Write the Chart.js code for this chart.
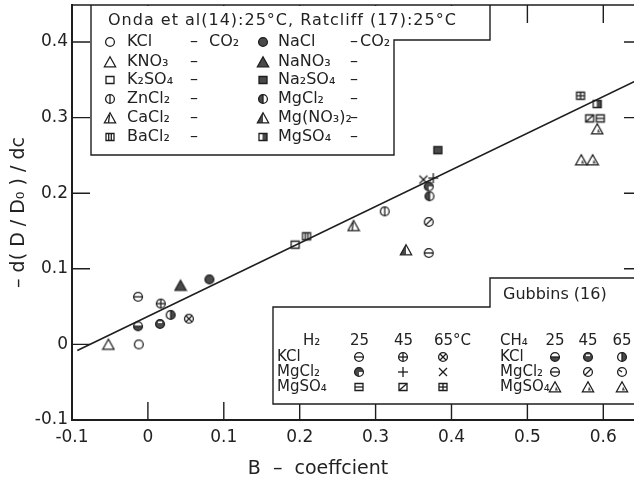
<!DOCTYPE html>
<html>
<head>
<meta charset="utf-8">
<script src="https://cdn.jsdelivr.net/npm/chart.js@4/dist/chart.umd.min.js"></script>
<style>
  html, body { margin: 0; padding: 0; background: #fff; overflow: hidden; }
  canvas { display: block; }
</style>
</head>
<body>
<canvas id="chart" width="650" height="490"></canvas>
<script>
// values: B-coefficient (x) vs -d(D/Do)/dc (y)
const bTicks = [-0.1, 0, 0.1, 0.2, 0.3, 0.4, 0.5, 0.6];
const slopeTicks = [-0.1, 0, 0.1, 0.2, 0.3, 0.4];

// Onda et al (14) / Ratcliff (17), 25°C, CO2
const ondaSalts = ["KCl", "KNO3", "K2SO4", "ZnCl2", "CaCl2", "BaCl2", "NaCl", "NaNO3", "Na2SO4", "MgCl2", "Mg(NO3)2", "MgSO4"];
const ondaB = [-0.012, -0.052, 0.194, 0.312, 0.271, 0.209, 0.081, 0.043, 0.382, 0.371, 0.340, 0.592];
const ondaSlope = [0.000, 0.000, 0.132, 0.176, 0.157, 0.143, 0.086, 0.078, 0.257, 0.196, 0.125, 0.318];
const ondaSymbols = ["o", "tri", "sq", "oV", "triLine", "sqV", "oFill", "triFill", "sqFill", "oHalf", "triHalf", "sqHalf"];

// Gubbins (16): rows KCl, MgCl2, MgSO4; columns 25, 45, 65 °C
const gubbinsSalts = ["KCl", "MgCl2", "MgSO4"];
const gubbinsTemps = [25, 45, 65];
const h2B = [[-0.013, 0.017, 0.054], [0.370, 0.376, 0.363], [0.596, 0.582, 0.570]];
const h2Slope = [[0.063, 0.054, 0.034], [0.209, 0.220, 0.218], [0.299, 0.299, 0.329]];
const h2Symbols = [["oTheta", "oPlus", "oX"], ["oQuarter", "plus", "cross"], ["sqH", "sqSlash", "sqPlus"]];
const ch4B = [[-0.013, 0.016, 0.030], [0.370, 0.370, null], [0.571, 0.586, 0.592]];
const ch4Slope = [[0.024, 0.027, 0.039], [0.121, 0.162, null], [0.244, 0.244, 0.285]];
const ch4Symbols = [["oLow", "oMost", "oRight"], ["oTheta", "oSlash", "oClock"], ["triIn", "triIn", "triIn"]];

// fitted straight line
const fitB = [-0.093, 0.652];
const fitSlope = [-0.008, 0.353];

const INK = "#1e1e1e";
const GREY = "#4a4a4a";
const FONT = '"DejaVu Sans", sans-serif';
const TICK = 18;

function symbol(kind) {
    const c = document.createElement("canvas");
    c.width = 14;
    c.height = 14;
    const g = c.getContext("2d");
    g.strokeStyle = INK;
    g.fillStyle = GREY;
    g.lineWidth = 1.3;
    const m = 7, r = 4.4;
    const circ = () => { g.beginPath(); g.arc(m, m, r, 0, Math.PI * 2); };
    const tri = () => { g.beginPath(); g.moveTo(m, 1.8); g.lineTo(12.6, 11.8); g.lineTo(1.4, 11.8); g.closePath(); };
    const sq = () => { g.beginPath(); g.rect(3, 3.5, 8, 7); };
    const seg = (x1, y1, x2, y2) => { g.beginPath(); g.moveTo(x1, y1); g.lineTo(x2, y2); g.stroke(); };
    const half = (a0, a1) => { g.beginPath(); g.moveTo(m, m); g.arc(m, m, r, a0, a1); g.closePath(); g.fill(); };
    switch (kind) {
        case "o": circ(); g.stroke(); break;
        case "oFill": circ(); g.fill(); g.stroke(); break;
        case "oV": circ(); g.stroke(); seg(m, m - r, m, m + r); break;
        case "oHalf": half(Math.PI / 2, Math.PI * 1.5); circ(); g.stroke(); seg(m, m - r, m, m + r); break;
        case "oTheta": circ(); g.stroke(); seg(m - r, m, m + r, m); break;
        case "oPlus": circ(); g.stroke(); seg(m - r, m, m + r, m); seg(m, m - r, m, m + r); break;
        case "oX": circ(); g.stroke(); seg(m - 3, m - 3, m + 3, m + 3); seg(m - 3, m + 3, m + 3, m - 3); break;
        case "oLow": half(0, Math.PI); circ(); g.stroke(); seg(m - r, m, m + r, m); break;
        case "oMost": circ(); g.fill(); g.stroke(); g.fillStyle = "#fff"; g.fillRect(m - 2, m - 2.5, 4, 1.6); break;
        case "oRight": half(-Math.PI / 2, Math.PI / 2); circ(); g.stroke(); seg(m, m - r, m, m + r); break;
        case "oQuarter": half(Math.PI / 2, Math.PI * 2); circ(); g.stroke(); break;
        case "oSlash": circ(); g.stroke(); seg(m - 3, m + 3, m + 3, m - 3); break;
        case "oClock": circ(); g.stroke(); seg(m, m, m - 3, m - 2); break;
        case "plus": seg(m - 5, m, m + 5, m); seg(m, m - 5, m, m + 5); break;
        case "cross": seg(m - 4, m - 4, m + 4, m + 4); seg(m - 4, m + 4, m + 4, m - 4); break;
        case "tri": tri(); g.stroke(); break;
        case "triFill": tri(); g.fill(); g.stroke(); break;
        case "triLine": tri(); g.stroke(); seg(m - 0.5, 4, m - 1.5, 11.8); break;
        case "triHalf": g.beginPath(); g.moveTo(m, 1.8); g.lineTo(m, 11.8); g.lineTo(1.4, 11.8); g.closePath(); g.fill(); tri(); g.stroke(); break;
        case "triIn": tri(); g.stroke(); g.beginPath(); g.moveTo(m + 1, 6.5); g.lineTo(10, 10.5); g.lineTo(m, 10.5); g.closePath(); g.fill(); break;
        case "sq": sq(); g.stroke(); break;
        case "sqV": sq(); g.stroke(); seg(5.7, 3.5, 5.7, 10.5); seg(8.3, 3.5, 8.3, 10.5); break;
        case "sqFill": sq(); g.fill(); g.stroke(); break;
        case "sqHalf": g.fillRect(6.5, 3.5, 4.5, 7); sq(); g.stroke(); break;
        case "sqH": sq(); g.stroke(); seg(3, 7, 11, 7); break;
        case "sqSlash": sq(); g.stroke(); seg(3, 10.5, 11, 3.5); break;
        case "sqPlus": sq(); g.stroke(); seg(3, 7, 11, 7); seg(7, 3.5, 7, 10.5); break;
    }
    return c;
}

const datasets = [{
    label: "fit",
    data: fitB.map((b, i) => ({ x: b, y: fitSlope[i] })),
    showLine: true,
    borderColor: INK,
    borderWidth: 1.6,
    pointRadius: 0,
}];
ondaSalts.forEach((salt, i) => {
    datasets.push({
        label: salt + " CO2",
        data: [{ x: ondaB[i], y: ondaSlope[i] }],
        pointStyle: symbol(ondaSymbols[i]),
    });
});
[["H2", h2B, h2Slope, h2Symbols], ["CH4", ch4B, ch4Slope, ch4Symbols]].forEach(([gas, bs, ys, syms]) => {
    gubbinsSalts.forEach((salt, r) => {
        gubbinsTemps.forEach((t, k) => {
            if (bs[r][k] === null) return;
            datasets.push({
                label: salt + " " + gas + " " + t,
                data: [{ x: bs[r][k], y: ys[r][k] }],
                pointStyle: symbol(syms[r][k]),
            });
        });
    });
});

function fmt(v) {
    return Math.abs(v) < 1e-9 ? "0" : v.toFixed(1);
}

const frameTicks = {
    id: "frameTicks",
    beforeDatasetsDraw(chart) {
        const { ctx, chartArea: a, scales: { x, y } } = chart;
        ctx.save();
        ctx.strokeStyle = INK;
        ctx.lineWidth = 1.4;
        ctx.beginPath();
        ctx.moveTo(a.left, a.top);
        ctx.lineTo(a.right, a.top);
        ctx.lineTo(a.right, a.bottom);
        bTicks.forEach(v => {
            const px = x.getPixelForValue(v);
            ctx.moveTo(px, a.bottom); ctx.lineTo(px, a.bottom - TICK);
            ctx.moveTo(px, a.top); ctx.lineTo(px, a.top + TICK);
        });
        slopeTicks.forEach(v => {
            const py = y.getPixelForValue(v);
            ctx.moveTo(a.left, py); ctx.lineTo(a.left + TICK, py);
            ctx.moveTo(a.right, py); ctx.lineTo(a.right - TICK, py);
        });
        ctx.stroke();
        ctx.restore();
    },
};

function txt(ctx, s, x, y, align) {
    ctx.textAlign = align || "left";
    ctx.fillText(s, x, y);
}

function mark(ctx, kind, x, y) {
    ctx.drawImage(symbol(kind), Math.round(x - 7), Math.round(y - 7));
}

const keyBoxes = {
    id: "keyBoxes",
    afterDatasetsDraw(chart) {
        const { ctx, chartArea: a } = chart;
        ctx.save();
        ctx.lineWidth = 1.4;
        ctx.strokeStyle = INK;
        ctx.fillStyle = "#fff";
        // Onda / Ratcliff key
        ctx.beginPath();
        ctx.moveTo(91, a.top + 1);
        ctx.lineTo(91, 155);
        ctx.lineTo(394, 155);
        ctx.lineTo(394, 40);
        ctx.lineTo(490, 40);
        ctx.lineTo(490, a.top + 1);
        ctx.closePath();
        ctx.fill();
        ctx.beginPath();
        ctx.moveTo(91, a.top);
        ctx.lineTo(91, 155);
        ctx.lineTo(394, 155);
        ctx.lineTo(394, 40);
        ctx.lineTo(490, 40);
        ctx.lineTo(490, a.top);
        ctx.stroke();
        // Gubbins key
        ctx.beginPath();
        ctx.moveTo(273, 307);
        ctx.lineTo(490, 307);
        ctx.lineTo(490, 278);
        ctx.lineTo(a.right + 4, 278);
        ctx.lineTo(a.right + 4, 404);
        ctx.lineTo(273, 404);
        ctx.closePath();
        ctx.fill();
        ctx.stroke();

        ctx.fillStyle = "#222";
        ctx.textBaseline = "middle";
        ctx.font = "16px " + FONT;
        ctx.letterSpacing = "1px";
        txt(ctx, "Onda et al(14):25°C, Ratcliff (17):25°C", 108, 21);
        ctx.letterSpacing = "0px";
        const leftNames = ["KCl", "KNO₃", "K₂SO₄", "ZnCl₂", "CaCl₂", "BaCl₂"];
        const rightNames = ["NaCl", "NaNO₃", "Na₂SO₄", "MgCl₂", "Mg(NO₃)₂", "MgSO₄"];
        const rows = [42, 62, 80, 99, 118, 137];
        rows.forEach((ry, i) => {
            mark(ctx, ondaSymbols[i], 110, ry);
            txt(ctx, leftNames[i], 127, ry);
            txt(ctx, "–", 194, ry, "center");
            mark(ctx, ondaSymbols[i + 6], 263, ry);
            txt(ctx, rightNames[i], 278, ry);
            txt(ctx, "–", 354, ry, "center");
        });
        txt(ctx, "CO₂", 209, 42);
        txt(ctx, "CO₂", 360, 42);

        txt(ctx, "Gubbins (16)", 503, 295);
        ctx.font = "15px " + FONT;
        txt(ctx, "H₂", 303, 341);
        txt(ctx, "CH₄", 500, 341);
        const h2Cols = [359, 403, 443];
        const ch4Cols = [555, 588, 622];
        gubbinsTemps.forEach((t, k) => {
            txt(ctx, k === 2 ? "65°C" : String(t), h2Cols[k] - 9, 341);
            txt(ctx, String(t), ch4Cols[k], 341, "center");
        });
        const rowNames = ["KCl", "MgCl₂", "MgSO₄"];
        const gy = [357, 372, 387];
        rowNames.forEach((n, r) => {
            txt(ctx, n, 277, gy[r]);
            txt(ctx, n, 500, gy[r]);
            gubbinsTemps.forEach((t, k) => {
                mark(ctx, h2Symbols[r][k], h2Cols[k], gy[r]);
                mark(ctx, ch4Symbols[r][k], ch4Cols[k], gy[r]);
            });
        });

        // x-axis title
        ctx.font = "19px " + FONT;
        txt(ctx, "B  –  coeffcient", 318, 469, "center");
        ctx.restore();
    },
};

new Chart(document.getElementById("chart"), {
    type: "scatter",
    data: { datasets },
    plugins: [frameTicks, keyBoxes],
    options: {
        responsive: false,
        animation: false,
        devicePixelRatio: 1,
        layout: { padding: { top: 3, right: 8, left: 0, bottom: 0 } },
        plugins: {
            legend: { display: false },
            tooltip: { enabled: false },
        },
        scales: {
            x: {
                type: "linear",
                min: -0.1,
                max: 0.651,
                afterBuildTicks: s => { s.ticks = bTicks.map(v => ({ value: v })); },
                afterFit: s => { s.height = 70; s.paddingLeft = 0; s.paddingRight = 0; },
                grid: { display: false, drawTicks: false },
                border: { display: true, color: INK, width: 2 },
                ticks: { color: "#222", font: { family: FONT, size: 17 }, padding: 7, callback: fmt },
            },
            y: {
                type: "linear",
                min: -0.1,
                max: 0.449,
                afterBuildTicks: s => { s.ticks = slopeTicks.map(v => ({ value: v })); },
                afterFit: s => { s.width = 72; s.paddingTop = 0; s.paddingBottom = 0; },
                grid: { display: false, drawTicks: false },
                border: { display: true, color: INK, width: 2 },
                ticks: { color: "#222", font: { family: FONT, size: 17 }, padding: 4, callback: fmt },
                title: { display: true, text: "– d( D / D₀ ) / dc", color: "#222", font: { family: FONT, size: 19 }, padding: { top: 8, bottom: 0 } },
            },
        },
    },
});
</script>
</body>
</html>
